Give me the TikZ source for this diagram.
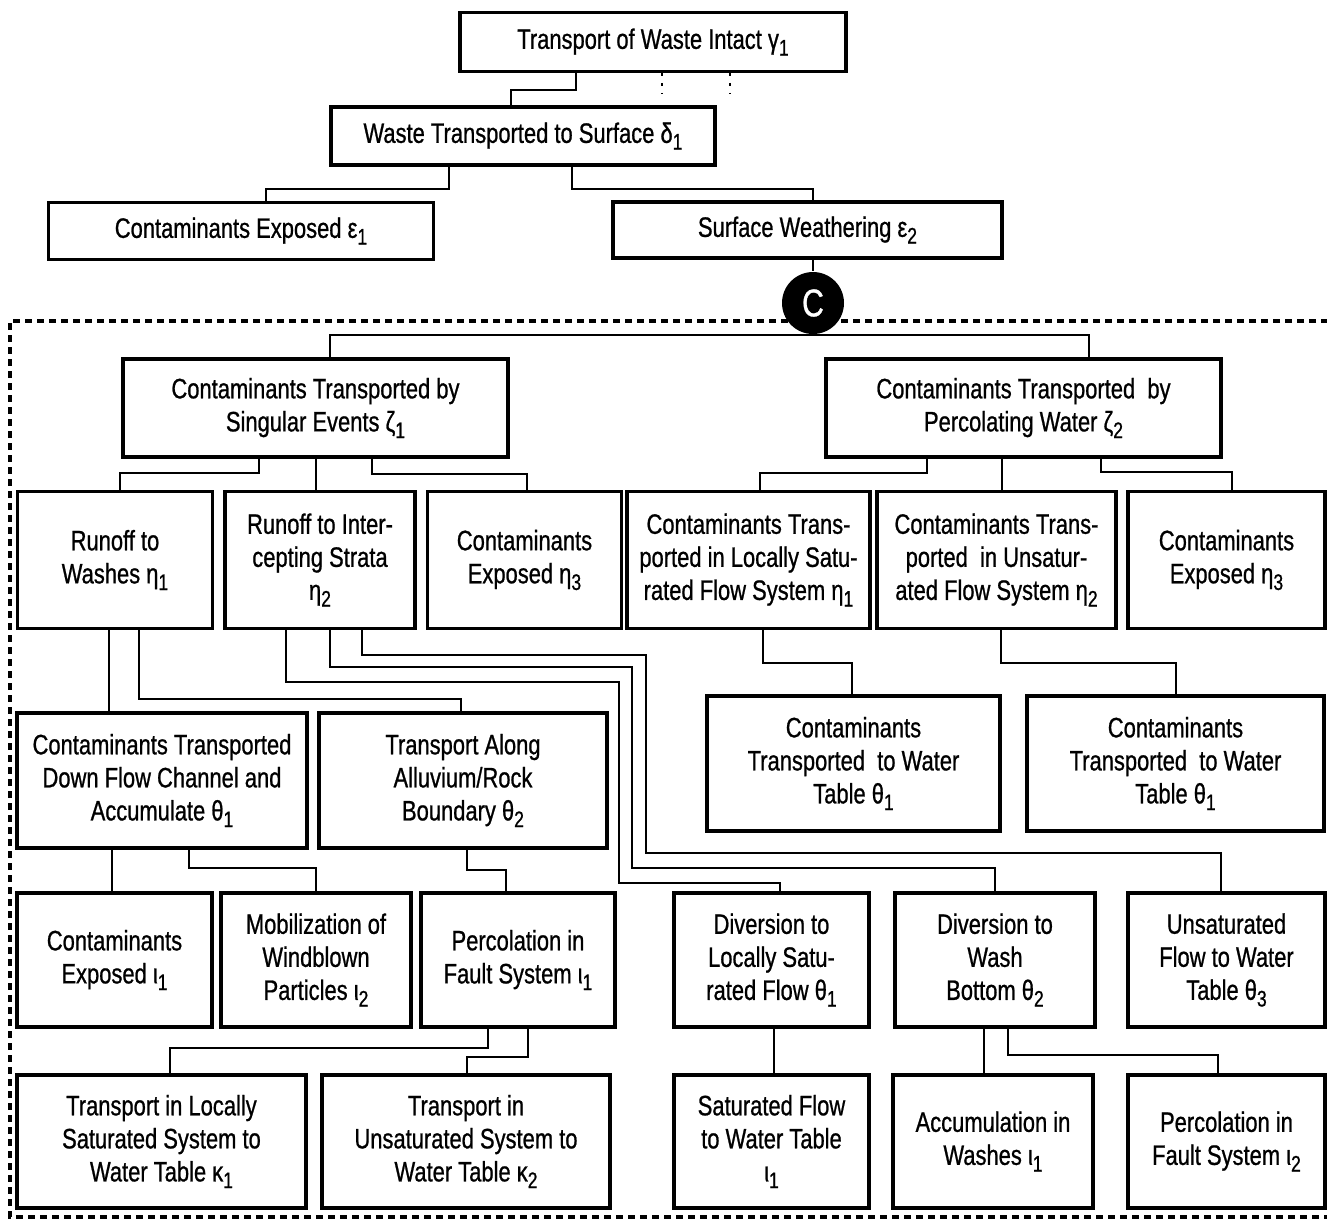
\documentclass[tikz,border=0pt]{standalone}
\usepackage{fontspec}
\setmainfont{Liberation Sans}[FakeStretch=0.78, FakeBold=0.8]
\newcommand{\idx}[1]{\raisebox{-0.45ex}{\fontsize{6.4}{6}\selectfont #1}}

\begin{document}
\begin{tikzpicture}[x=1cm, y=-1cm,
  box/.style={draw, line width=0.9pt, align=center, inner sep=0pt,
    font=\fontsize{8}{9.4}\selectfont},
  link/.style={line width=0.8pt},
  frame/.style={line width=0.9pt, dash pattern=on 0.07cm off 0.05cm}]
  \useasboundingbox (0,0) rectangle (13.27,12.20);

  % Top of the tree
  \node[box, minimum width=3.86cm, minimum height=0.59cm] (intact) at (6.53,0.42) {Transport of Waste Intact γ\idx{1}};
  \node[box, minimum width=3.84cm, minimum height=0.58cm] (surface) at (5.23,1.36) {Waste Transported to Surface δ\idx{1}};
  \node[box, minimum width=3.85cm, minimum height=0.57cm] (exposed) at (2.41,2.31) {Contaminants Exposed ε\idx{1}};
  \node[box, minimum width=3.89cm, minimum height=0.56cm] (weathering) at (8.075,2.30) {Surface Weathering ε\idx{2}};
  \node[circle, fill=black, text=white, minimum size=0.62cm, inner sep=0pt,
    font=\fontsize{11}{11}\selectfont] (circC) at (8.13,3.03) {C};

  \draw[link] (intact.south -| 5.76,0) |- (5.11,0.90) -- (surface.north -| 5.11,0);
  \draw[link, dotted] (intact.south -| 6.62,0) -- ++(0,0.21);
  \draw[link, dotted] (intact.south -| 7.30,0) -- ++(0,0.21);
  \draw[link] (surface.south -| 4.49,0) |- (2.66,1.89) -- (exposed.north -| 2.66,0);
  \draw[link] (surface.south -| 5.72,0) |- (8.13,1.89) -- (weathering.north -| 8.13,0);
  \draw[link] (weathering.south -| 8.13,0) -- (circC);

  % Dashed frame
  \draw[frame] (13.40,3.21) -- (0.10,3.21) -- (0.10,12.17) -- (13.40,12.17);

  % Second level
  \node[box, minimum width=3.85cm, minimum height=0.98cm] (singular) at (3.155,4.08) {Contaminants Transported by\\Singular Events ζ\idx{1}};
  \node[box, minimum width=3.95cm, minimum height=0.98cm] (percolating) at (10.235,4.08) {Contaminants Transported\ \ by\\Percolating Water ζ\idx{2}};

  \draw[link] (singular.north -| 3.30,0) |- (10.89,3.35) -- (percolating.north -| 10.89,0);
  \draw[link] (circC) -- (circC.south |- 0,3.35);

  % Third level
  \node[box, minimum width=1.95cm, minimum height=1.37cm] (washes) at (1.15,5.60) {Runoff to\\Washes η\idx{1}};
  \node[box, minimum width=1.90cm, minimum height=1.37cm] (strata) at (3.20,5.60) {Runoff to Inter-\\cepting Strata\\η\idx{2}};
  \node[box, minimum width=1.94cm, minimum height=1.37cm] (exposedleft) at (5.245,5.60) {Contaminants\\Exposed η\idx{3}};
  \node[box, minimum width=2.43cm, minimum height=1.37cm] (locsat) at (7.485,5.60) {Contaminants Trans-\\ported in Locally Satu-\\rated Flow System η\idx{1}};
  \node[box, minimum width=2.39cm, minimum height=1.37cm] (unsat) at (9.965,5.60) {Contaminants Trans-\\ported\ \ in Unsatur-\\ated Flow System η\idx{2}};
  \node[box, minimum width=1.97cm, minimum height=1.37cm] (exposedright) at (12.265,5.60) {Contaminants\\Exposed η\idx{3}};

  \draw[link] (singular.south -| 2.59,0) |- (1.20,4.73) -- (washes.north -| 1.20,0);
  \draw[link] (singular.south -| 3.16,0) -- (strata.north -| 3.16,0);
  \draw[link] (singular.south -| 3.72,0) |- (5.27,4.74) -- (exposedleft.north -| 5.27,0);
  \draw[link] (percolating.south -| 9.27,0) |- (7.60,4.73) -- (locsat.north -| 7.60,0);
  \draw[link] (percolating.south -| 10.02,0) -- (unsat.north -| 10.02,0);
  \draw[link] (percolating.south -| 11.01,0) |- (12.32,4.72) -- (exposedright.north -| 12.32,0);

  % Fourth level
  \node[box, minimum width=2.90cm, minimum height=1.35cm] (channel) at (1.62,7.805) {Contaminants Transported\\Down Flow Channel and\\Accumulate θ\idx{1}};
  \node[box, minimum width=2.88cm, minimum height=1.35cm] (alluvium) at (4.63,7.805) {Transport Along\\Alluvium/Rock\\Boundary θ\idx{2}};
  \node[box, minimum width=2.93cm, minimum height=1.35cm] (tablesat) at (8.535,7.635) {Contaminants\\Transported\ \ to Water\\Table θ\idx{1}};
  \node[box, minimum width=2.97cm, minimum height=1.35cm] (tableunsat) at (11.755,7.635) {Contaminants\\Transported\ \ to Water\\Table θ\idx{1}};

  \draw[link] (washes.south -| 1.09,0) -- (channel.north -| 1.09,0);
  \draw[link] (washes.south -| 1.39,0) |- (4.61,6.99) -- (alluvium.north -| 4.61,0);
  \draw[link] (locsat.south -| 7.63,0) |- (8.52,6.63) -- (tablesat.north -| 8.52,0);
  \draw[link] (unsat.south -| 10.01,0) |- (11.76,6.63) -- (tableunsat.north -| 11.76,0);

  % Fifth level
  \node[box, minimum width=1.95cm, minimum height=1.34cm] (exposediota) at (1.145,9.60) {Contaminants\\Exposed ι\idx{1}};
  \node[box, minimum width=1.90cm, minimum height=1.34cm] (windblown) at (3.16,9.60) {Mobilization of\\Windblown\\Particles ι\idx{2}};
  \node[box, minimum width=1.94cm, minimum height=1.34cm] (faultleft) at (5.18,9.60) {Percolation in\\Fault System ι\idx{1}};
  \node[box, minimum width=1.95cm, minimum height=1.34cm] (divsat) at (7.715,9.60) {Diversion to\\Locally Satu-\\rated Flow θ\idx{1}};
  \node[box, minimum width=2.00cm, minimum height=1.34cm] (divwash) at (9.95,9.60) {Diversion to\\Wash\\Bottom θ\idx{2}};
  \node[box, minimum width=1.97cm, minimum height=1.34cm] (unsatflow) at (12.265,9.60) {Unsaturated\\Flow to Water\\Table θ\idx{3}};

  \draw[link] (channel.south -| 1.12,0) -- (exposediota.north -| 1.12,0);
  \draw[link] (channel.south -| 1.89,0) |- (3.16,8.68) -- (windblown.north -| 3.16,0);
  \draw[link] (alluvium.south -| 4.67,0) |- (5.06,8.70) -- (faultleft.north -| 5.06,0);
  \draw[link] (strata.south -| 2.86,0) |- (6.19,6.82) |- (7.80,8.83) -- (divsat.north -| 7.80,0);
  \draw[link] (strata.south -| 3.30,0) |- (6.32,6.67) |- (9.95,8.68) -- (divwash.north -| 9.95,0);
  \draw[link] (strata.south -| 3.62,0) |- (6.46,6.55) |- (12.21,8.53) -- (unsatflow.north -| 12.21,0);

  % Bottom level
  \node[box, minimum width=2.89cm, minimum height=1.33cm] (locsys) at (1.615,11.415) {Transport in Locally\\Saturated System to\\Water Table κ\idx{1}};
  \node[box, minimum width=2.88cm, minimum height=1.33cm] (unsatsys) at (4.66,11.415) {Transport in\\Unsaturated System to\\Water Table κ\idx{2}};
  \node[box, minimum width=1.95cm, minimum height=1.33cm] (satflow) at (7.715,11.415) {Saturated Flow\\to Water Table\\ι\idx{1}};
  \node[box, minimum width=2.00cm, minimum height=1.33cm] (accum) at (9.93,11.415) {Accumulation in\\Washes ι\idx{1}};
  \node[box, minimum width=1.97cm, minimum height=1.33cm] (faultright) at (12.265,11.415) {Percolation in\\Fault System ι\idx{2}};

  \draw[link] (faultleft.south -| 4.88,0) |- (1.70,10.48) -- (locsys.north -| 1.70,0);
  \draw[link] (faultleft.south -| 5.28,0) |- (4.67,10.57) -- (unsatsys.north -| 4.67,0);
  \draw[link] (divsat.south -| 7.74,0) -- (satflow.north -| 7.74,0);
  \draw[link] (divwash.south -| 9.84,0) -- (accum.north -| 9.84,0);
  \draw[link] (divwash.south -| 10.08,0) |- (12.18,10.55) -- (faultright.north -| 12.18,0);
\end{tikzpicture}
\end{document}
